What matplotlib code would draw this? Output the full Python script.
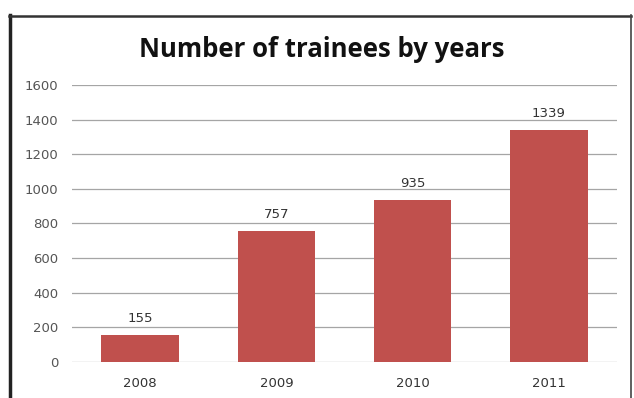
import matplotlib.pyplot as plt
from matplotlib.lines import Line2D

# Trainee counts per year
years = ['2008', '2009', '2010', '2011']
trainees = [155, 757, 935, 1339]
yticks = [0, 200, 400, 600, 800, 1000, 1200, 1400, 1600]

plt.rcParams['font.family'] = ['DejaVu Sans']

fig = plt.figure(figsize=(6.34, 3.98), dpi=100)
ax = fig.add_axes([0.1136, 0.0905, 0.8596, 0.6959])

x = range(len(years))
bars = ax.bar(x, trainees, width=0.57, color='#C0504D', zorder=3)
for xi, v in zip(x, trainees):
    ax.annotate(str(v), (xi, v), xytext=(0, 7), textcoords='offset points',
                ha='center', va='bottom', fontsize=9.5, color='#333333')

ax.set_xlim(-0.5, 3.5)
ax.set_ylim(0, 1600)
ax.set_xticks(list(x))
ax.set_xticklabels(years, fontsize=9.5, color='#333333')
ax.set_yticks(yticks)
ax.set_yticklabels([str(t) for t in yticks], fontsize=9.5, color='#555555')
ax.tick_params(length=0)
ax.tick_params(axis='y', pad=10)
ax.tick_params(axis='x', pad=11)
ax.grid(axis='y', color='#a5a5a5', linewidth=0.9, zorder=0)
for s in ax.spines.values():
    s.set_visible(False)

fig.text(0.508, 0.857, 'Number of trainees by years', ha='center', va='baseline',
         fontsize=18.5, fontweight='bold', color='#111111', family='Open Sans')

# chart frame
fig.add_artist(Line2D([0.016, 0.016], [0.0, 0.962], color='#222222', linewidth=2.5))
fig.add_artist(Line2D([0.014, 0.996], [0.960, 0.960], color='#333333', linewidth=1.8))
fig.add_artist(Line2D([0.995, 0.995], [0.0, 0.962], color='#444444', linewidth=1.2))

fig.savefig('out.png', dpi=100)
